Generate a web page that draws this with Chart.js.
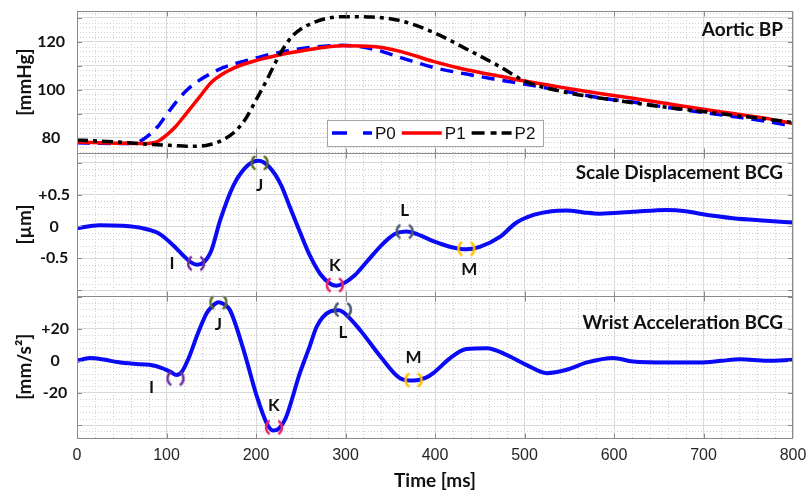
<!DOCTYPE html>
<html>
<head>
<meta charset="utf-8">
<script src="https://cdn.jsdelivr.net/npm/chart.js@4.4.1/dist/chart.umd.min.js"></script>
<style>
  body { margin: 0; background: #fff; }
  #wrap { position: relative; width: 806px; height: 494px; }
</style>
</head>
<body>
<div id="wrap"><canvas id="bcgChart"></canvas></div>
<script>
// ---- data ----
const timeTicks = [0, 100, 200, 300, 400, 500, 600, 700, 800];

// aortic pressure, mmHg
const tBP = [0, 25, 50, 65, 75, 90, 100, 110, 122, 137, 150, 163, 175, 186, 200, 212, 227, 241, 264, 297, 330, 361, 398, 435, 473, 500, 547, 584, 621, 659, 696, 733, 770, 800];
const p0 = [77.8, 77.6, 77.5, 77.8, 79.5, 84.5, 89.5, 94.5, 99.5, 104, 106.8, 109.2, 110.7, 111.8, 113.2, 114.4, 115.6, 116.6, 117.8, 118.5, 117, 113.5, 109.3, 106.5, 104, 102.3, 99.2, 96.6, 94.8, 92.6, 90.7, 88.8, 86.8, 84.8];
const p1 = [78.1, 77.8, 77.6, 77.5, 77.5, 78.3, 81, 84.5, 90, 97, 103, 106.6, 109, 110.6, 112.2, 113.3, 114.6, 115.6, 117, 118.3, 118, 116, 111.8, 108.3, 105.6, 103.6, 100.6, 98.4, 96.4, 94.2, 92, 90, 88, 85.8];
const p2 = [79, 78.5, 78, 77.6, 77.3, 77, 76.8, 76.6, 76.4, 76.4, 77.2, 79, 82, 86.5, 95.6, 104, 115, 122.5, 128, 130.5, 130.3, 128.8, 124, 117, 109.5, 103.6, 98.8, 96.5, 94.5, 92.6, 91, 89.3, 87.7, 86.3];
const bpTicks = [80, 90, 100, 110, 120, 130];
const bpLabels = ['80', '', '100', '', '120', ''];

// scale displacement BCG, um
const tScale = [0, 25, 50, 74, 90, 100, 110, 119, 127, 134, 141, 150, 160, 175, 190, 203, 215, 228, 238, 250, 260, 272, 283, 290, 297, 310, 324, 342, 355, 368, 380, 398, 420, 435, 450, 473, 490, 510, 530, 547, 566, 584, 621, 659, 680, 696, 733, 770, 800];
const scaleBCG = [-0.03, 0.02, 0.01, -0.03, -0.1, -0.2, -0.33, -0.46, -0.56, -0.6, -0.57, -0.38, 0.1, 0.65, 0.95, 1.03, 0.93, 0.65, 0.3, -0.12, -0.45, -0.75, -0.9, -0.93, -0.9, -0.77, -0.55, -0.27, -0.12, -0.08, -0.12, -0.23, -0.33, -0.36, -0.32, -0.16, 0.05, 0.18, 0.24, 0.25, 0.22, 0.2, 0.23, 0.26, 0.24, 0.2, 0.13, 0.09, 0.06];
const scaleTicks = [-1, -0.5, 0, 0.5, 1];
const scaleLabels = ['', '-0.5', '0', '+0.5', ''];
const scaleMarkT = [133, 204, 288, 366, 435];
const scaleMarkV = [-0.58, 1.0, -0.92, -0.08, -0.35];

// wrist acceleration BCG, mm/s^2
const tWrist = [0, 14, 30, 45, 63, 81, 95, 105, 111, 117, 125, 135, 145, 152, 158, 165, 171, 186, 201, 212, 219, 226, 233, 249, 260, 268, 283, 292, 297, 316, 339, 361, 376, 390, 398, 417, 435, 458, 480, 502, 525, 547, 570, 599, 621, 659, 696, 720, 741, 771, 800];
const wristBCG = [0, 1.7, 0.8, -0.8, -1.9, -2.5, -4.5, -7, -8.8, -7, 2, 17, 29.8, 34.5, 36.5, 35, 31.5, 7, -22.3, -39, -43.5, -42, -36, -7.7, 9, 21.5, 30.8, 31.5, 30.5, 19.4, 2.7, -10.8, -12.3, -10.5, -7.7, 1.7, 7.3, 7.9, 3.75, -2.5, -7.7, -5.6, -1, 1.8, -0.4, -1, -1, 0, 1, 0, 0.6];
const wristTicks = [-40, -20, 0, 20, 40];
const wristLabels = ['', '-20', '0', '+20', ''];
const wristMarkT = [110, 158, 220, 297, 376];
const wristMarkV = [-11, 36.5, -41.5, 31.9, -12];

const markNames = ['I', 'J', 'K', 'L', 'M'];

// ---- style ----
const markColors = ['#7030a0', '#5b6b2a', '#f0246e', '#4a5a72', '#ffc000'];
const scaleLabelOff = [[-24, 0], [0, 23], [0, -20], [0, -21], [3, 21]];
const wristLabelOff = [[-24, 9], [0, 22], [0, -22], [0, 23], [0, -23]];
const boldFont = 'Lato, "Open Sans", sans-serif';
const gridMajor = '#d9d9d9';
const gridMinor = '#cfcfcf';

function ringImage(color) {
  const c = document.createElement('canvas');
  c.width = 24; c.height = 24;
  const g = c.getContext('2d');
  g.strokeStyle = color;
  g.lineWidth = 2.6;
  g.beginPath(); g.arc(12, 12, 8, Math.PI * 0.68, Math.PI * 1.32); g.stroke();
  g.beginPath(); g.arc(12, 12, 8, -Math.PI * 0.32, Math.PI * 0.32); g.stroke();
  return c;
}
const rings = markColors.map(ringImage);

function xy(ts, vs) { return ts.map((t, i) => ({x: t, y: vs[i]})); }

function fixedTicks(values) {
  return scale => { scale.ticks = values.map(v => ({value: v})); };
}
function fitY(s) { s.width = 77; s.paddingTop = 0; s.paddingBottom = 0; }
function fitX(s) { s.height = 56; s.paddingLeft = 0; s.paddingRight = 0; }

// minor dotted grid + white background
const minorGrid = {
  id: 'minorGrid',
  beforeDraw(chart) {
    const {ctx, chartArea: a, scales} = chart;
    ctx.save();
    ctx.fillStyle = '#fff';
    ctx.fillRect(0, 0, chart.width, chart.height);
    ctx.strokeStyle = gridMinor;
    ctx.lineWidth = 1;
    ctx.setLineDash([1, 2]);
    const xs = scales.x;
    for (let t = 20; t < 800; t += 20) {
      if (t % 100 === 0) continue;
      const px = Math.round(xs.getPixelForValue(t)) + 0.5;
      ctx.beginPath(); ctx.moveTo(px, a.top); ctx.lineTo(px, a.bottom); ctx.stroke();
    }
    const steps = {yBP: 2, yScale: 0.1, yWrist: 4};
    for (const id in steps) {
      const s = scales[id], st = steps[id];
      const majors = s.ticks.map(k => k.value);
      for (let k = Math.ceil(s.min / st); k * st < s.max; k++) {
        const v = k * st;
        if (majors.some(m => Math.abs(m - v) < 1e-6)) continue;
        const py = Math.round(s.getPixelForValue(v)) + 0.5;
        ctx.beginPath(); ctx.moveTo(a.left, py); ctx.lineTo(a.right, py); ctx.stroke();
      }
    }
    ctx.restore();
  }
};

// panel boxes, inward ticks, titles, marker letters, legend
const panels = {
  id: 'panels',
  afterDatasetsDraw(chart) {
    const {ctx, chartArea: a, scales} = chart;
    const xs = scales.x;
    ctx.save();
    ctx.strokeStyle = '#8a8a8a';
    ctx.lineWidth = 1;
    ['yBP', 'yScale', 'yWrist'].forEach(id => {
      const s = scales[id];
      const top = Math.round(s.top) + 0.5, bot = Math.round(s.bottom) + 0.5;
      ctx.strokeRect(a.left + 0.5, top, a.right - a.left - 1, bot - top);
      ctx.beginPath();
      s.ticks.forEach(k => {
        const py = Math.round(s.getPixelForValue(k.value)) + 0.5;
        ctx.moveTo(a.left, py); ctx.lineTo(a.left + 5, py);
        ctx.moveTo(a.right - 5, py); ctx.lineTo(a.right, py);
      });
      timeTicks.slice(1, -1).forEach(t => {
        const px = Math.round(xs.getPixelForValue(t)) + 0.5;
        ctx.moveTo(px, top); ctx.lineTo(px, top + 5);
        ctx.moveTo(px, bot); ctx.lineTo(px, bot - 5);
      });
      ctx.stroke();
    });
    ctx.restore();
  },
  afterDraw(chart) {
    const {ctx, chartArea: a, scales} = chart;
    ctx.save();
    // panel titles
    ctx.fillStyle = '#111';
    ctx.font = 'bold 19px ' + boldFont;
    ctx.textAlign = 'right';
    ctx.textBaseline = 'alphabetic';
    [['yBP', 'Aortic BP', 25], ['yScale', 'Scale Displacement BCG', 26], ['yWrist', 'Wrist Acceleration BCG', 33]]
      .forEach(([id, txt, dy]) => ctx.fillText(txt, a.right - 10, scales[id].top + dy));
    // marker letters
    ctx.font = 'bold 17px ' + boldFont;
    ctx.textAlign = 'center';
    ctx.textBaseline = 'middle';
    chart.data.datasets.forEach((ds, i) => {
      if (!ds.markOffsets) return;
      chart.getDatasetMeta(i).data.forEach((pt, j) => {
        ctx.fillText(markNames[j], pt.x + ds.markOffsets[j][0], pt.y + ds.markOffsets[j][1]);
      });
    });
    // legend for the pressure panel
    const items = chart.data.datasets.filter(ds => ds.yAxisID === 'yBP' && ds.label);
    const bx = 327, by = 120, bw = 216, bh = 26, cy = by + bh / 2;
    ctx.fillStyle = '#fff';
    ctx.fillRect(bx, by, bw, bh);
    ctx.strokeStyle = '#a6a6a6';
    ctx.lineWidth = 1;
    ctx.strokeRect(bx + 0.5, by + 0.5, bw, bh);
    ctx.font = '17px "Liberation Sans", Arial, sans-serif';
    ctx.textAlign = 'left';
    let cx = bx + 5;
    items.forEach(ds => {
      ctx.strokeStyle = ds.borderColor;
      ctx.lineWidth = ds.borderWidth;
      ctx.setLineDash(ds.legendDash || ds.borderDash || []);
      ctx.beginPath(); ctx.moveTo(cx, cy); ctx.lineTo(cx + 40, cy); ctx.stroke();
      ctx.setLineDash([]);
      ctx.fillStyle = '#111';
      ctx.fillText(ds.label, cx + 43, cy + 1);
      cx += 43 + ctx.measureText(ds.label).width + 6;
    });
    ctx.restore();
  }
};

const lineBase = {pointRadius: 0, cubicInterpolationMode: 'monotone', fill: false};
const yTickFont = {family: boldFont, size: 16, weight: 'bold'};
const yTitleFont = {family: boldFont, size: 19, weight: 'bold'};

new Chart(document.getElementById('bcgChart'), {
  type: 'line',
  data: {
    datasets: [
      {label: 'P0', data: xy(tBP, p0), yAxisID: 'yBP', borderColor: '#0000ff', borderWidth: 3.5, borderDash: [13, 8], legendDash: [15, 16], order: 3, ...lineBase},
      {label: 'P1', data: xy(tBP, p1), yAxisID: 'yBP', borderColor: '#ff0000', borderWidth: 3.5, order: 2, ...lineBase},
      {label: 'P2', data: xy(tBP, p2), yAxisID: 'yBP', borderColor: '#000000', borderWidth: 3.5, borderDash: [11, 5, 4, 5], legendDash: [13, 6, 6, 5], order: 1, ...lineBase},
      {data: xy(tScale, scaleBCG), yAxisID: 'yScale', borderColor: '#0a0af5', borderWidth: 4, order: 1, ...lineBase},
      {data: xy(tWrist, wristBCG), yAxisID: 'yWrist', borderColor: '#0a0af5', borderWidth: 4, order: 1, ...lineBase},
      {data: xy(scaleMarkT, scaleMarkV), yAxisID: 'yScale', showLine: false, pointStyle: rings, pointRadius: 8, order: 0, markOffsets: scaleLabelOff},
      {data: xy(wristMarkT, wristMarkV), yAxisID: 'yWrist', showLine: false, pointStyle: rings, pointRadius: 8, order: 0, markOffsets: wristLabelOff}
    ]
  },
  options: {
    responsive: true,
    maintainAspectRatio: false,
    animation: false,
    events: [],
    layout: {padding: {top: 11, right: 13, left: 0, bottom: 0}},
    plugins: {legend: {display: false}, tooltip: {enabled: false}},
    scales: {
      x: {
        type: 'linear', min: 0, max: 800,
        afterBuildTicks: fixedTicks(timeTicks),
        afterFit: fitX,
        grid: {color: gridMajor, drawTicks: false},
        border: {display: false},
        ticks: {padding: 8, autoSkip: false, maxRotation: 0, color: '#262626', font: {family: '"Liberation Sans", Arial, sans-serif', size: 16}},
        title: {display: true, text: 'Time [ms]', color: '#111', padding: {bottom: 2}, font: yTitleFont}
      },
      yBP: {
        type: 'linear', position: 'left', stack: 'panels', stackWeight: 1, weight: 3,
        min: 73.4, max: 132.85,
        afterBuildTicks: fixedTicks(bpTicks),
        afterFit: fitY,
        grid: {color: gridMajor, drawTicks: false},
        border: {display: false},
        ticks: {padding: 12, autoSkip: false, crossAlign: 'center', color: '#111', font: yTickFont, callback: (v, i) => bpLabels[i]},
        title: {display: true, text: '[mmHg]', color: '#111', padding: {top: 13}, font: yTitleFont}
      },
      yScale: {
        type: 'linear', position: 'left', stack: 'panels', stackWeight: 1, weight: 2,
        min: -1.087, max: 1.148,
        afterBuildTicks: fixedTicks(scaleTicks),
        afterFit: fitY,
        grid: {color: gridMajor, drawTicks: false},
        border: {display: false},
        ticks: {padding: 7, autoSkip: false, crossAlign: 'center', color: '#111', font: yTickFont, callback: (v, i) => scaleLabels[i]},
        title: {display: true, text: '[\u00b5m]', color: '#111', padding: {top: 13}, font: yTitleFont}
      },
      yWrist: {
        type: 'linear', position: 'left', stack: 'panels', stackWeight: 1, weight: 1,
        min: -48.1, max: 40.6,
        afterBuildTicks: fixedTicks(wristTicks),
        afterFit: fitY,
        grid: {color: gridMajor, drawTicks: false},
        border: {display: false},
        ticks: {padding: 8, autoSkip: false, crossAlign: 'center', color: '#111', font: yTickFont, callback: (v, i) => wristLabels[i]},
        title: {display: true, text: '[mm/s\u00b2]', color: '#111', padding: {top: 13}, font: yTitleFont}
      }
    }
  },
  plugins: [minorGrid, panels]
});
</script>
</body>
</html>
